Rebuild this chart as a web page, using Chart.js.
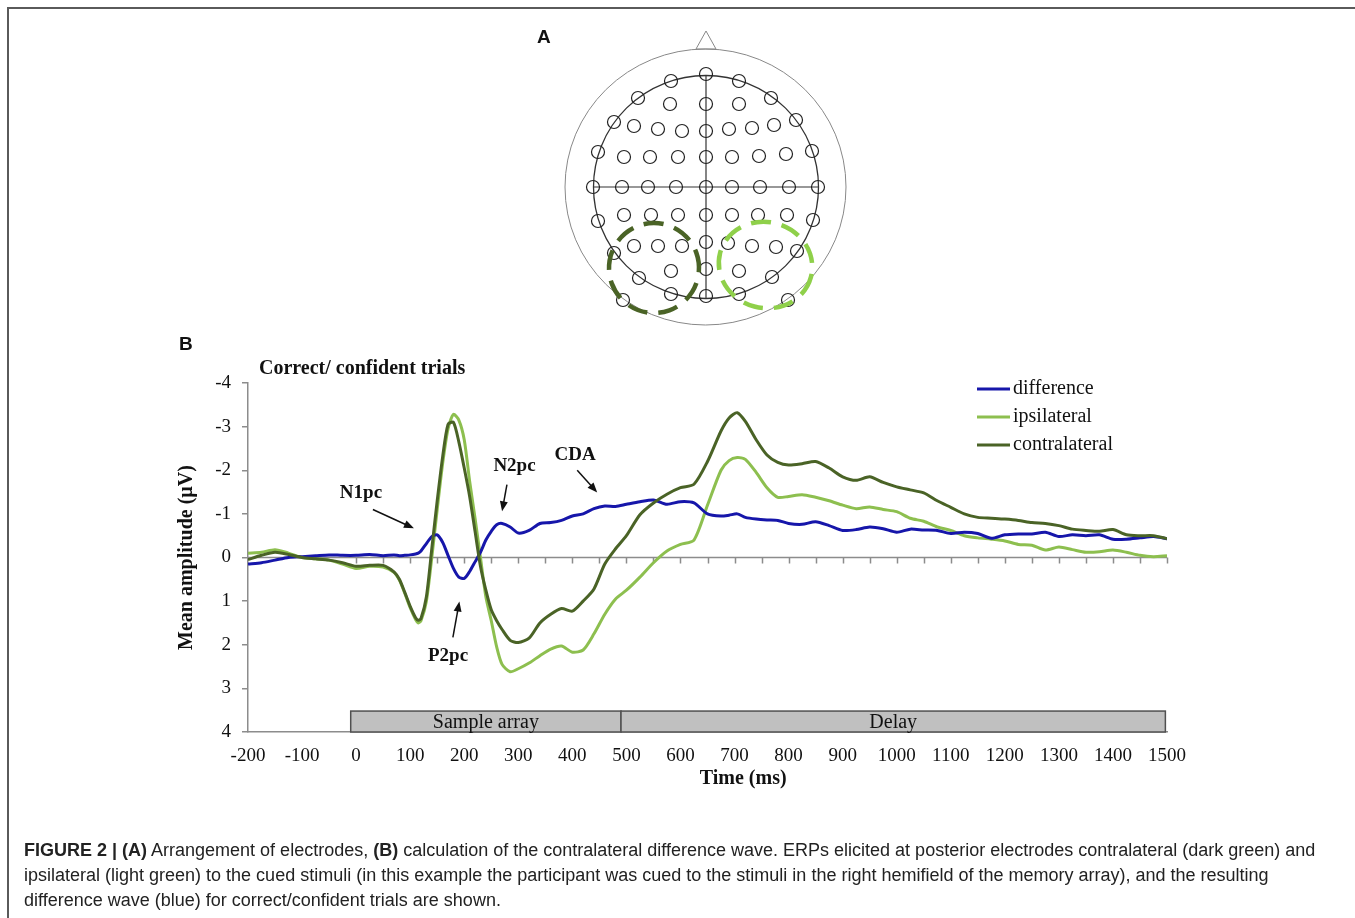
<!DOCTYPE html>
<html>
<head>
<meta charset="utf-8">
<script src="https://cdn.jsdelivr.net/npm/chart.js@4.4.1/dist/chart.umd.min.js"></script>
<style>
  html, body { margin: 0; padding: 0; background: #fff; }
  #page { position: relative; width: 1355px; height: 918px; overflow: hidden; }
  #frame { position: absolute; left: 7px; top: 7px; width: 1360px; height: 920px;
           border-top: 2px solid #5a5a5a; border-left: 2px solid #5a5a5a; }
  #erp { position: absolute; left: 0; top: 0; }
  #head { position: absolute; left: 0; top: 0; }
  .panel { position: absolute; font-family: "Liberation Sans", Arial, sans-serif;
           font-weight: bold; font-size: 19px; color: #111; }
  #caption { position: absolute; left: 24px; top: 838px; font-family: "Liberation Sans", Arial, sans-serif;
             font-size: 18px; line-height: 25px; color: #222; white-space: nowrap; }
</style>
</head>
<body>
<div id="page">
  <div id="frame"></div>
  <canvas id="erp" width="1355" height="918"></canvas>
  <svg id="head" width="1355" height="330"></svg>
  <div class="panel" style="left:537px; top:26px;">A</div>
  <div class="panel" style="left:179px; top:333px;">B</div>
  <div id="caption">
    <b>FIGURE 2 | (A)</b> Arrangement of electrodes, <b>(B)</b> calculation of the contralateral difference wave. ERPs elicited at posterior electrodes contralateral (dark green) and<br>
    ipsilateral (light green) to the cued stimuli (in this example the participant was cued to the stimuli in the right hemifield of the memory array), and the resulting<br>
    difference wave (blue) for correct/confident trials are shown.
  </div>
</div>
<script>
// time points (ms) shared by the three waves
const timeMs = [-200, -175, -150, -125, -100, -75, -50, -25, 0, 25, 50, 70, 80, 90, 100, 110, 115, 120, 130, 140,
    150, 160, 170, 180, 190, 200, 210, 220, 230, 240, 250, 260, 270, 285, 300, 320, 340, 360, 380, 400,
    420, 440, 460, 480, 500, 525, 550, 575, 600, 625, 650, 675, 690, 705, 720, 740, 760, 780, 800, 825,
    850, 875, 900, 925, 950, 975, 1000, 1025, 1050, 1075, 1100, 1125, 1150, 1175, 1200, 1225, 1250, 1275,
    1300, 1325, 1350, 1375, 1400, 1425, 1450, 1475, 1500];

const difference = [0.15, 0.12, 0.06, 0.0, -0.02, -0.04, -0.06, -0.05, -0.05, -0.07, -0.04, -0.06, -0.04, -0.05, -0.06, -0.08, -0.1, -0.15, -0.32, -0.48,
    -0.52, -0.35, -0.05, 0.25, 0.45, 0.48, 0.32, 0.1, -0.12, -0.4, -0.6, -0.75, -0.78, -0.7, -0.56, -0.62, -0.78, -0.8, -0.85, -0.95,
    -1.0, -1.12, -1.18, -1.17, -1.22, -1.28, -1.32, -1.22, -1.28, -1.25, -1.0, -0.95, -0.97, -1.0, -0.92, -0.88, -0.86, -0.85, -0.78, -0.76,
    -0.82, -0.73, -0.62, -0.64, -0.7, -0.66, -0.58, -0.65, -0.63, -0.62, -0.55, -0.58, -0.55, -0.44, -0.52, -0.54, -0.54, -0.58,
    -0.48, -0.52, -0.5, -0.52, -0.42, -0.42, -0.45, -0.48, -0.43];

const ipsilateral = [-0.1, -0.12, -0.18, -0.1, 0.0, 0.03, 0.06, 0.15, 0.25, 0.2, 0.22, 0.34, 0.52, 0.82, 1.15, 1.42, 1.5, 1.45, 1.0, 0.0,
    -1.1, -2.15, -2.95, -3.28, -3.15, -2.7, -1.75, -0.9, 0.0, 0.9, 1.45, 2.05, 2.45, 2.62, 2.55, 2.42, 2.25, 2.1, 2.03, 2.17,
    2.12, 1.75, 1.3, 0.95, 0.75, 0.45, 0.12, -0.15, -0.3, -0.4, -1.2, -2.0, -2.22, -2.29, -2.25, -1.95, -1.6, -1.38, -1.4, -1.44,
    -1.38, -1.3, -1.2, -1.12, -1.16, -1.1, -1.05, -0.9, -0.83, -0.7, -0.62, -0.5, -0.45, -0.42, -0.38, -0.3, -0.28, -0.17,
    -0.24, -0.18, -0.12, -0.13, -0.17, -0.12, -0.05, -0.02, -0.04];

const contralateral = [0.05, -0.05, -0.12, -0.07, 0.0, 0.03, 0.06, 0.12, 0.2, 0.18, 0.18, 0.33, 0.5, 0.8, 1.12, 1.38, 1.44, 1.4, 0.9, -0.2,
    -1.3, -2.3, -3.05, -3.1, -2.65, -2.05, -1.4, -0.6, 0.2, 0.75, 1.2, 1.45, 1.65, 1.9, 1.95, 1.85, 1.5, 1.3, 1.17, 1.23,
    1.0, 0.72, 0.15, -0.2, -0.5, -0.98, -1.25, -1.45, -1.6, -1.68, -2.2, -2.9, -3.2, -3.32, -3.12, -2.7, -2.35, -2.18, -2.12, -2.15,
    -2.2, -2.05, -1.85, -1.77, -1.85, -1.72, -1.62, -1.55, -1.48, -1.3, -1.15, -1.0, -0.92, -0.9, -0.88, -0.85, -0.8, -0.78,
    -0.73, -0.65, -0.62, -0.6, -0.64, -0.52, -0.5, -0.5, -0.43];

// task phases shown as grey boxes under the waves
const phaseNames = ['Sample array', 'Delay'];
const phaseStart = [-10, 490];
const phaseEnd = [490, 1497];

const COLORS = { difference: '#1616aa', ipsilateral: '#8dbf4f', contralateral: '#4a6326' };
const SERIF = '"Liberation Serif", "Times New Roman", serif';

// component labels with arrows, in data units
const annotations = [
    { text: 'N1pc', tx: 9, ty: -1.47, from: [31, -1.1], to: [107, -0.67] },
    { text: 'N2pc', tx: 293, ty: -2.09, from: [279, -1.67], to: [270, -1.06] },
    { text: 'CDA', tx: 405, ty: -2.34, from: [409, -2.0], to: [446, -1.49] },
    { text: 'P2pc', tx: 170, ty: 2.27, from: [179, 1.83], to: [191, 1.01] }
];

function points(values) {
    return timeMs.map((t, i) => ({ x: t, y: values[i] }));
}

function arrow(ctx, x1, y1, x2, y2) {
    const ang = Math.atan2(y2 - y1, x2 - x1);
    const head = 10;
    ctx.beginPath();
    ctx.moveTo(x1, y1);
    ctx.lineTo(x2 - Math.cos(ang) * head * 0.8, y2 - Math.sin(ang) * head * 0.8);
    ctx.stroke();
    ctx.beginPath();
    ctx.moveTo(x2, y2);
    ctx.lineTo(x2 - head * Math.cos(ang) + 4 * Math.sin(ang), y2 - head * Math.sin(ang) - 4 * Math.cos(ang));
    ctx.lineTo(x2 - head * Math.cos(ang) - 4 * Math.sin(ang), y2 - head * Math.sin(ang) + 4 * Math.cos(ang));
    ctx.closePath();
    ctx.fill();
}

const decor = {
    id: 'decor',
    beforeDatasetsDraw(chart) {
        const { ctx, scales: { x, y } } = chart;
        const y0 = y.getPixelForValue(0);
        ctx.save();

        // zero line with 50 ms ticks
        ctx.strokeStyle = '#8c8c8c';
        ctx.lineWidth = 1.5;
        ctx.beginPath();
        ctx.moveTo(x.left, y0);
        ctx.lineTo(x.right, y0);
        for (let t = 0; t <= 1500; t += 50) {
            const px = Math.round(x.getPixelForValue(t)) + 0.5;
            ctx.moveTo(px, y0);
            ctx.lineTo(px, y0 + 6);
        }
        ctx.stroke();

        // phase boxes
        const yt = y.getPixelForValue(3.52);
        const yb = y.getPixelForValue(4);
        phaseNames.forEach((name, i) => {
            const x1 = x.getPixelForValue(phaseStart[i]);
            const x2 = x.getPixelForValue(phaseEnd[i]);
            ctx.fillStyle = '#c0c0c0';
            ctx.fillRect(x1, yt, x2 - x1, yb - yt);
            ctx.strokeStyle = '#505050';
            ctx.lineWidth = 1.5;
            ctx.strokeRect(x1, yt, x2 - x1, yb - yt);
            ctx.fillStyle = '#111';
            ctx.font = '20px ' + SERIF;
            ctx.textAlign = 'center';
            ctx.textBaseline = 'middle';
            ctx.fillText(name, (x1 + x2) / 2, (yt + yb) / 2 + 1);
        });
        ctx.restore();
    },
    afterDraw(chart) {
        const { ctx, chartArea: area, scales: { x, y } } = chart;
        ctx.save();
        ctx.fillStyle = '#111';
        ctx.strokeStyle = '#111';

        // chart title
        ctx.font = 'bold 20px ' + SERIF;
        ctx.textAlign = 'left';
        ctx.textBaseline = 'middle';
        ctx.fillText('Correct/ confident trials', area.left + 11, area.top - 14);

        // axis titles
        ctx.font = 'bold 20px ' + SERIF;
        ctx.textAlign = 'center';
        ctx.fillText('Time (ms)', x.getPixelForValue(716), area.bottom + 47);
        ctx.save();
        ctx.translate(area.left - 61, (area.top + area.bottom) / 2);
        ctx.rotate(-Math.PI / 2);
        ctx.fillText('Mean amplitude (\u00b5V)', 0, 0);
        ctx.restore();

        // component annotations
        ctx.font = 'bold 19px ' + SERIF;
        ctx.lineWidth = 1.5;
        annotations.forEach(a => {
            ctx.fillText(a.text, x.getPixelForValue(a.tx), y.getPixelForValue(a.ty));
            arrow(ctx, x.getPixelForValue(a.from[0]), y.getPixelForValue(a.from[1]),
                x.getPixelForValue(a.to[0]), y.getPixelForValue(a.to[1]));
        });

        // legend
        ctx.font = '20px ' + SERIF;
        ctx.textAlign = 'left';
        chart.data.datasets.slice().sort((a, b) => a.legendRank - b.legendRank).forEach((ds, i) => {
            const ly = area.top + 6 + i * 28;
            ctx.strokeStyle = ds.borderColor;
            ctx.lineWidth = 3;
            ctx.beginPath();
            ctx.moveTo(area.right - 190, ly);
            ctx.lineTo(area.right - 157, ly);
            ctx.stroke();
            ctx.fillStyle = '#111';
            ctx.fillText(ds.label, area.right - 154, ly);
        });
        ctx.restore();
    }
};

const ctx = document.getElementById('erp').getContext('2d');
new Chart(ctx, {
    type: 'line',
    data: {
        datasets: [
            { label: 'contralateral', legendRank: 2, data: points(contralateral), borderColor: COLORS.contralateral },
            { label: 'difference', legendRank: 0, data: points(difference), borderColor: COLORS.difference },
            { label: 'ipsilateral', legendRank: 1, data: points(ipsilateral), borderColor: COLORS.ipsilateral }
        ].map(ds => Object.assign(ds, { borderWidth: 3, pointRadius: 0, tension: 0.25, fill: false }))
    },
    options: {
        responsive: false,
        animation: false,
        layout: { padding: { left: 208, right: 188, top: 383, bottom: 146 } },
        plugins: { legend: { display: false }, tooltip: { enabled: false } },
        scales: {
            x: {
                type: 'linear',
                min: -200,
                max: 1500,
                grid: { display: false, drawTicks: false },
                border: { display: true, color: '#8c8c8c', width: 1.5 },
                ticks: {
                    stepSize: 100,
                    autoSkip: false,
                    maxRotation: 0,
                    padding: 13,
                    color: '#111',
                    font: { family: SERIF, size: 19 },
                    callback: v => String(v)
                },
                afterFit: s => { s.height = 40; }
            },
            y: {
                min: -4,
                max: 4,
                reverse: true,
                grid: { drawOnChartArea: false, tickLength: 6, color: '#8c8c8c', lineWidth: 1.5 },
                border: { color: '#8c8c8c', width: 1.5 },
                ticks: {
                    stepSize: 1,
                    padding: 11,
                    color: '#111',
                    font: { family: SERIF, size: 19 },
                    callback: v => String(v)
                },
                afterFit: s => { s.width = 40; }
            }
        }
    },
    plugins: [decor]
});

// electrode map (panel A)
const electrodes = [
    [706, 74], [671, 81], [739, 81],
    [638, 98], [670, 104], [706, 104], [739, 104], [771, 98],
    [614, 122], [796, 120],
    [634, 126], [658, 129], [682, 131], [706, 131], [729, 129], [752, 128], [774, 125],
    [598, 152], [812, 151],
    [624, 157], [650, 157], [678, 157], [706, 157], [732, 157], [759, 156], [786, 154],
    [593, 187], [622, 187], [648, 187], [676, 187], [706, 187], [732, 187], [760, 187], [789, 187], [818, 187],
    [598, 221], [813, 220],
    [624, 215], [651, 215], [678, 215], [706, 215], [732, 215], [758, 215], [787, 215],
    [614, 253], [797, 251],
    [634, 246], [658, 246], [682, 246], [706, 242], [728, 243], [752, 246], [776, 247],
    [639, 278], [671, 271], [706, 269], [739, 271], [772, 277],
    [623, 300], [671, 294], [706, 296], [739, 294], [788, 300]
];

const svgNS = 'http://www.w3.org/2000/svg';
const head = document.getElementById('head');
function add(tag, attrs) {
    const el = document.createElementNS(svgNS, tag);
    Object.entries(attrs).forEach(([k, v]) => el.setAttribute(k, v));
    head.appendChild(el);
    return el;
}
add('polygon', { points: '706,31 696,49 716,49', fill: 'none', stroke: '#888', 'stroke-width': 1 });
add('ellipse', { cx: 705.5, cy: 187, rx: 140.5, ry: 138, fill: 'none', stroke: '#888', 'stroke-width': 1 });
add('ellipse', { cx: 706, cy: 187, rx: 112.5, ry: 111.5, fill: 'none', stroke: '#333', 'stroke-width': 1.3 });
add('line', { x1: 706, y1: 76, x2: 706, y2: 298, stroke: '#333', 'stroke-width': 1.2 });
add('line', { x1: 593, y1: 187, x2: 819, y2: 187, stroke: '#333', 'stroke-width': 1.2 });
electrodes.forEach(([cx, cy]) => {
    add('circle', { cx, cy, r: 6.5, fill: 'none', stroke: '#222', 'stroke-width': 1.2 });
});
add('ellipse', { cx: 654, cy: 268, rx: 45, ry: 45, fill: 'none', stroke: COLORS.contralateral,
    'stroke-width': 4.5, 'stroke-dasharray': '20 11', transform: 'rotate(-20 654 268)' });
add('ellipse', { cx: 765.5, cy: 265, rx: 47, ry: 43, fill: 'none', stroke: '#8fd04a',
    'stroke-width': 4.5, 'stroke-dasharray': '20 11', transform: 'rotate(15 765.5 265)' });
</script>
</body>
</html>
